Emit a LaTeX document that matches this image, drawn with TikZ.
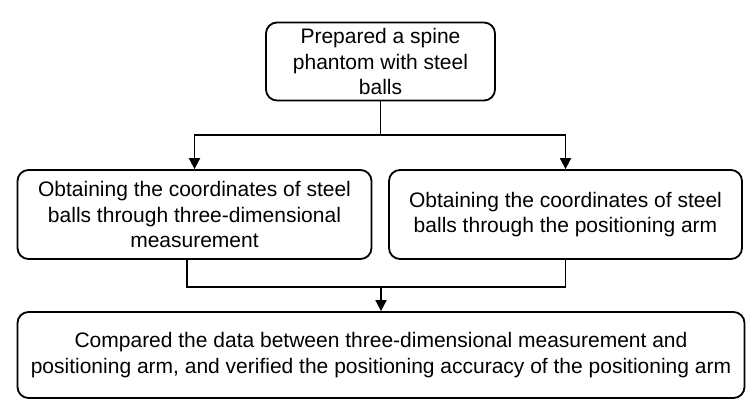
\documentclass[tikz,border=0pt]{standalone}
\usepackage{fontspec}
\setmainfont{Liberation Sans}
\usetikzlibrary{arrows.meta}
\begin{document}
\begin{tikzpicture}[x=1pt,y=-1pt,
  box/.style={draw, line width=1.8pt, rounded corners=11pt, align=center, inner sep=0pt,
    font=\fontsize{21}{25.5}\selectfont},
  conn/.style={line width=1.8pt},
  arr/.style={conn, -{Triangle[length=11pt,width=11pt]}}]
\useasboundingbox (0,0) rectangle (750,407);
\node[box, minimum width=229pt, minimum height=78pt] (top) at (380.5,61.5) {Prepared a spine\\phantom with steel\\balls};
\node[box, minimum width=354pt, minimum height=89pt] (left) at (194.5,214.5) {Obtaining the coordinates of steel\\balls through three-dimensional\\measurement};
\node[box, minimum width=353pt, minimum height=89pt] (right) at (565.5,214.5) {Obtaining the coordinates of steel\\balls through the positioning arm};
\node[box, minimum width=727pt, minimum height=86pt] (bot) at (381,355) {Compared the data between three-dimensional measurement and\\positioning arm, and verified the positioning accuracy of the positioning arm};
\coordinate (j1) at (380.5,135);
\coordinate (j2) at (381,287);
\draw[conn] (top.south) -- (j1);
\draw[arr] (j1) -| (left.north);
\draw[arr] (j1) -| (right.north);
\draw[conn] (left.south -| 187,0) |- (j2);
\draw[conn] (right.south) |- (j2);
\draw[arr] (j2) -- (bot.north);
\end{tikzpicture}
\end{document}
